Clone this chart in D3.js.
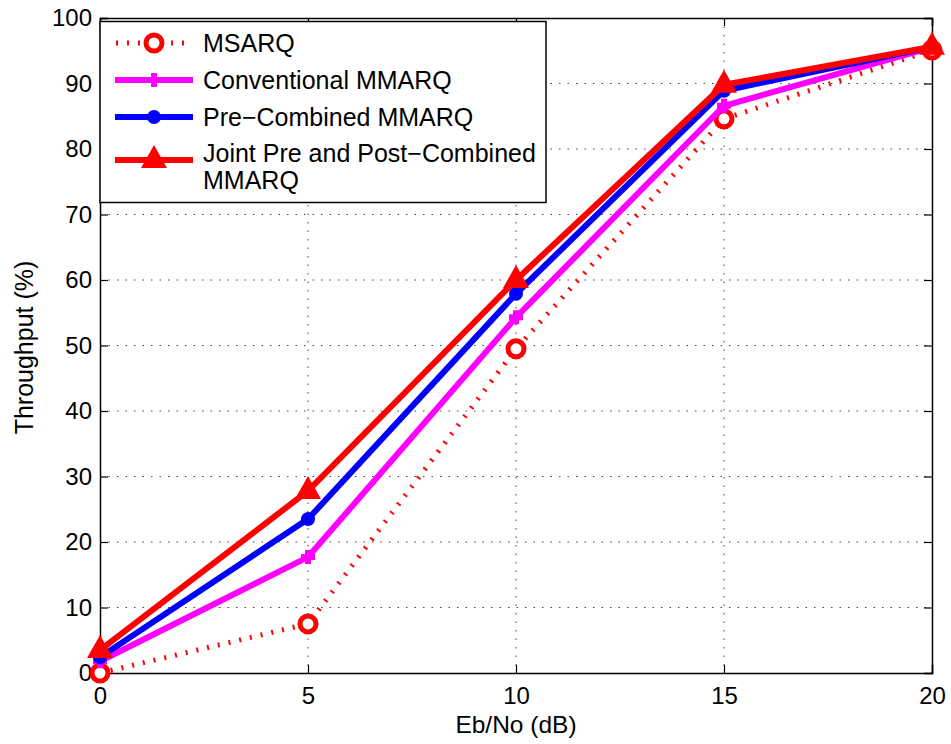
<!DOCTYPE html>
<html><head><meta charset="utf-8">
<script src="https://cdn.jsdelivr.net/npm/d3@7"></script>
<style>body{margin:0;background:#fff}svg{display:block}text{font-family:Arial,"Liberation Sans",Helvetica,sans-serif}</style>
</head><body><svg id="c" width="951" height="744"></svg>
<script>
const ebno = [0, 5, 10, 15, 20];
const msarq = [0, 7.5, 49.5, 84.6, 95.1];
const conventional = [1.8, 17.7, 54.3, 86.6, 95.5];
const preCombined = [2.4, 23.5, 57.9, 88.9, 95.6];
const jointPrePost = [3.5, 27.8, 60.0, 89.8, 95.6];
const xTicks = [0, 5, 10, 15, 20];
const yTicks = [0, 10, 20, 30, 40, 50, 60, 70, 80, 90, 100];
const seriesNames = ["MSARQ", "Conventional MMARQ", "Pre\u2212Combined MMARQ", "Joint Pre and Post\u2212Combined|MMARQ"];

const svg = d3.select("#c");
const L = 100, R = 932, T = 18, B = 673;
const x = d3.scaleLinear().domain([0, 20]).range([L, R]);
const y = d3.scaleLinear().domain([0, 100]).range([B, T]);

// grid
const g = svg.append("g");
g.selectAll(".gx").data(xTicks.slice(1, -1)).join("line")
  .attr("x1", d => x(d)).attr("x2", d => x(d)).attr("y1", T).attr("y2", B)
  .attr("stroke", "#444").attr("stroke-width", 1).attr("stroke-dasharray", "1.5,7");
g.selectAll(".gy").data(yTicks.slice(1, -1)).join("line")
  .attr("x1", L).attr("x2", R).attr("y1", d => y(d)).attr("y2", d => y(d))
  .attr("stroke", "#444").attr("stroke-width", 1).attr("stroke-dasharray", "1.5,7");

// axes
const axB = d3.axisBottom(x).tickValues(xTicks).tickSize(-8).tickPadding(14);
const axL = d3.axisLeft(y).tickValues(yTicks).tickSize(-8).tickPadding(8);
const axT = d3.axisTop(x).tickValues(xTicks).tickSize(-8).tickFormat("");
const axR = d3.axisRight(y).tickValues(yTicks).tickSize(-8).tickFormat("");
function style(sel){ sel.select(".domain").attr("stroke","#000").attr("stroke-width",1.5);
  sel.selectAll(".tick line").attr("stroke","#000").attr("stroke-width",1.2);
  sel.selectAll("text").attr("font-size",24).attr("fill","#000").style("font-family","Arial, 'Liberation Sans', sans-serif"); }
svg.append("g").attr("transform",`translate(0,${B})`).call(axB).call(style);
svg.append("g").attr("transform",`translate(${L},0)`).call(axL).call(style);
svg.append("g").attr("transform",`translate(0,${T})`).call(axT).call(style);
svg.append("g").attr("transform",`translate(${R},0)`).call(axR).call(style);

svg.append("text").attr("x",(L+R)/2).attr("y",733).attr("text-anchor","middle").attr("font-size",24.5).text("Eb/No (dB)");
svg.append("text").attr("transform",`translate(33,${(T+B)/2+2}) rotate(-90)`).attr("text-anchor","middle").attr("font-size",25).text("Throughput (%)");

const line = d3.line().x((d,i)=>x(ebno[i])).y(d=>y(d));
const series = [
  {v: msarq, color:"#ff0000", w:5, dash:"2,9", marker:"circle"},
  {v: conventional, color:"#ff00ff", w:6, dash:null, marker:"plus"},
  {v: preCombined, color:"#0000ff", w:6, dash:null, marker:"dot"},
  {v: jointPrePost, color:"#ff0000", w:6, dash:null, marker:"tri"}
];
function drawMarker(sel, s, cx, cy){
  if(s.marker==="circle") sel.append("circle").attr("cx",cx).attr("cy",cy).attr("r",8).attr("fill","#fff").attr("stroke",s.color).attr("stroke-width",5);
  else if(s.marker==="plus") sel.append("path").attr("d",`M${cx-7},${cy}H${cx+7}M${cx},${cy-7}V${cy+7}`).attr("stroke",s.color).attr("stroke-width",6);
  else if(s.marker==="dot") sel.append("circle").attr("cx",cx).attr("cy",cy).attr("r",7).attr("fill",s.color);
  else if(s.marker==="tri") sel.append("path").attr("d",`M${cx},${cy-15}L${cx+13},${cy+8}L${cx-13},${cy+8}Z`).attr("fill",s.color);
}
const plot = svg.append("g");
series.forEach(s=>{
  const p = plot.append("path").attr("d", line(s.v)).attr("fill","none").attr("stroke",s.color).attr("stroke-width",s.w).attr("stroke-linejoin","round");
  if(s.dash) p.attr("stroke-dasharray",s.dash).attr("stroke-width",5);
  s.v.forEach((d,i)=>drawMarker(plot, s, x(ebno[i]), y(d)));
});

// legend
const lg = svg.append("g");
lg.append("rect").attr("x",100).attr("y",21.5).attr("width",446).attr("height",181).attr("fill","#fff").attr("stroke","#000").attr("stroke-width",1.5);
const rows = [43, 80, 117, 160];
series.forEach((s,i)=>{
  const yy = rows[i];
  const l = lg.append("line").attr("x1",115).attr("x2",193).attr("y1",yy).attr("y2",yy).attr("stroke",s.color).attr("stroke-width",s.dash?5:6);
  if(s.dash) l.attr("stroke-dasharray","2,9").attr("stroke-dashoffset",-1);
  drawMarker(lg, s, 154, yy);
  const parts = seriesNames[i].split("|");
  if(parts.length===1){
    lg.append("text").attr("x",203).attr("y",yy+9).attr("font-size",25).text(parts[0]);
  } else {
    lg.append("text").attr("x",203).attr("y",153+9).attr("font-size",25).text(parts[0]);
    lg.append("text").attr("x",203).attr("y",180+9).attr("font-size",25).text(parts[1]);
  }
});
</script></body></html>
